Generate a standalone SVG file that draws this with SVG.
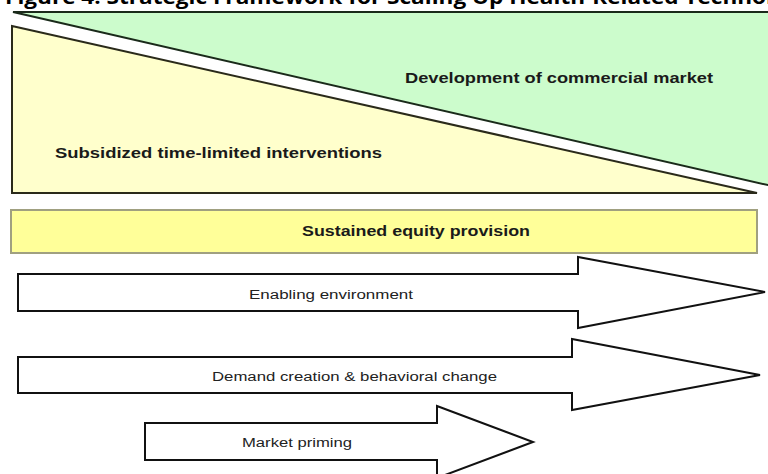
<svg xmlns="http://www.w3.org/2000/svg" width="768" height="474" viewBox="0 0 768 474">
  <defs>
    <style>
      .title { font-family: "Open Sans", "Liberation Sans", sans-serif; font-weight: bold; font-size: 19px; fill: #000; }
      .band { font-family: "Liberation Sans", Arial, sans-serif; font-weight: bold; font-size: 15px; fill: #1a1a1a; }
      .lbl { font-family: "Liberation Sans", Arial, sans-serif; font-size: 12.5px; fill: #222; }
      .arrow { fill: #ffffff; stroke: #111; stroke-width: 2; stroke-linejoin: miter; }
    </style>
  </defs>

  <rect x="0" y="0" width="768" height="474" fill="#ffffff"/>

  <!-- figure caption, top edge cropped -->
  <text class="title" x="5" y="4" textLength="768" lengthAdjust="spacingAndGlyphs">Figure 4: Strategic Framework for Scaling Up Health-Related Technol</text>

  <!-- commercial market wedge -->
  <g id="commercial-market">
    <polygon points="13,12 772,12 772,186" fill="#ccfccc" stroke="#1a2a1a" stroke-width="2"/>
    <text class="band" x="405" y="83" textLength="308" lengthAdjust="spacingAndGlyphs">Development of commercial market</text>
  </g>

  <!-- subsidized interventions wedge -->
  <g id="subsidized-interventions">
    <polygon points="12,26 757,193 12,193" fill="#ffffcc" stroke="#2a2a1a" stroke-width="2"/>
    <text class="band" x="55" y="158" textLength="327" lengthAdjust="spacingAndGlyphs">Subsidized time-limited interventions</text>
  </g>

  <!-- equity provision bar -->
  <g id="equity-provision">
    <rect x="11" y="210" width="746" height="43" fill="#ffff99" stroke="#a0a080" stroke-width="2"/>
    <text class="band" x="302" y="236" textLength="228" lengthAdjust="spacingAndGlyphs">Sustained equity provision</text>
  </g>

  <!-- enabling environment arrow -->
  <g id="enabling-environment">
    <polygon class="arrow" points="18,274 578,274 578,257 765,292 578,328 578,311 18,311"/>
    <text class="lbl" x="249" y="299" textLength="164" lengthAdjust="spacingAndGlyphs">Enabling environment</text>
  </g>

  <!-- demand creation arrow -->
  <g id="demand-creation">
    <polygon class="arrow" points="18,357 572,357 572,339 760,375 572,410 572,393 18,393"/>
    <text class="lbl" x="212" y="381" textLength="285" lengthAdjust="spacingAndGlyphs">Demand creation &amp; behavioral change</text>
  </g>

  <!-- market priming arrow -->
  <g id="market-priming">
    <polygon class="arrow" points="145,423 437,423 437,406 533,442 437,478 437,460 145,460"/>
    <text class="lbl" x="242" y="447" textLength="110" lengthAdjust="spacingAndGlyphs">Market priming</text>
  </g>

  <g id="connectors"/>
</svg>
